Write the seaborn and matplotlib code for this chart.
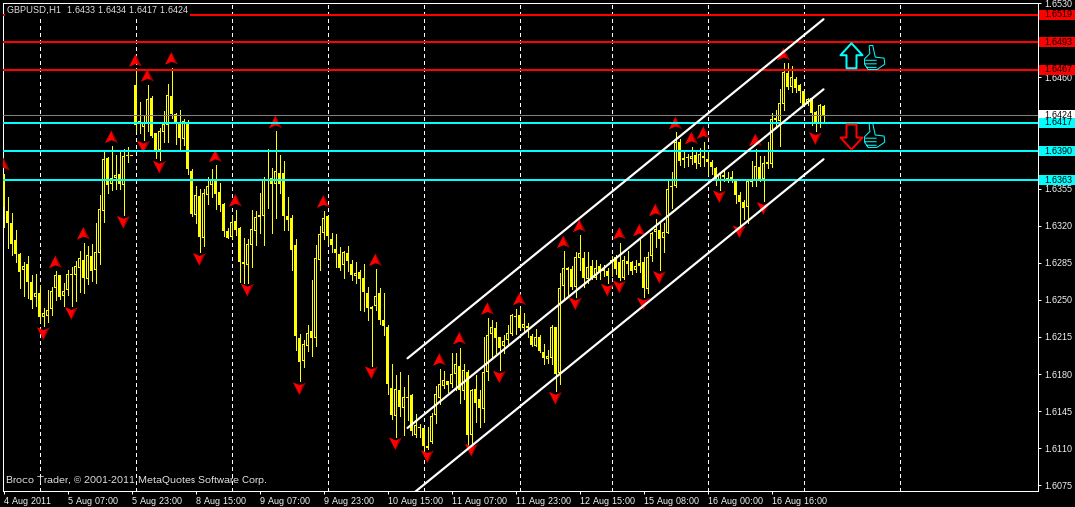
"""GBPUSD H1 chart with fractals, a rising channel and support/resistance levels."""

import numpy as np
import matplotlib
matplotlib.use("Agg")
import matplotlib.pyplot as plt
from matplotlib.patches import Rectangle
from matplotlib.path import Path
from matplotlib.transforms import blended_transform_factory
import seaborn as sns

# candles, in pips above 1.6000
BASE = 1.6
highs = [
    369, 347, 332, 316, 294, 286, 291, 273, 274, 264,
    242, 259, 262, 277, 273, 266, 278, 281, 287, 296,
    304, 301, 303, 322, 349, 391, 385, 395, 387, 391,
    392, 394, 386, 467, 437, 424, 453, 442, 407, 412,
    428, 454, 469, 426, 429, 421, 420, 373, 357, 355,
    355, 366, 373, 377, 360, 341, 318, 329, 335, 319,
    308, 307, 335, 334, 351, 366, 392, 374, 409, 387,
    381, 347, 330, 307, 218, 212, 226, 269, 302, 320,
    334, 329, 313, 312, 300, 296, 301, 288, 286, 278,
    284, 262, 244, 279, 261, 256, 226, 189, 179, 182,
    168, 179, 161, 142, 133, 129, 130, 143, 169, 185,
    183, 173, 200, 200, 205, 189, 184, 166, 179, 165,
    215, 233, 231, 229, 215, 217, 226, 237, 241, 242,
    238, 228, 218, 222, 217, 208, 203, 226, 224, 275,
    296, 281, 282, 295, 311, 295, 295, 288, 288, 284,
    283, 280, 291, 292, 304, 291, 296, 287, 288, 307,
    290, 295, 314, 326, 322, 322, 362, 371, 408, 402,
    389, 388, 394, 391, 393, 399, 390, 382, 375, 371,
    372, 371, 372, 362, 352, 344, 363, 381, 392, 386,
    386, 399, 426, 429, 449, 473, 473, 471, 460, 454,
    447, 440, 440, 428, 435, 434,
]
lows = [
    319, 299, 292, 286, 261, 254, 252, 242, 244, 229,
    225, 229, 236, 250, 251, 244, 255, 244, 249, 257,
    256, 265, 268, 266, 284, 323, 351, 354, 355, 355,
    330, 380, 386, 409, 407, 401, 409, 404, 384, 382,
    399, 399, 422, 397, 391, 396, 369, 329, 322, 295,
    301, 340, 347, 336, 334, 310, 308, 308, 311, 267,
    266, 266, 281, 302, 313, 302, 337, 313, 327, 351,
    316, 316, 278, 203, 173, 187, 202, 197, 206, 278,
    307, 303, 295, 281, 278, 271, 277, 269, 266, 240,
    239, 231, 188, 240, 227, 217, 161, 138, 121, 140,
    122, 137, 122, 121, 121, 105, 109, 115, 134, 152,
    167, 163, 168, 165, 153, 156, 113, 115, 135, 130,
    135, 174, 196, 200, 184, 200, 206, 217, 218, 222,
    220, 215, 206, 206, 201, 189, 190, 189, 164, 171,
    251, 255, 260, 253, 278, 262, 266, 270, 270, 270,
    272, 266, 272, 274, 269, 270, 274, 274, 276, 276,
    253, 256, 287, 300, 278, 295, 313, 337, 356, 377,
    375, 376, 378, 374, 376, 376, 368, 369, 358, 354,
    362, 361, 361, 341, 321, 326, 322, 357, 357, 362,
    343, 374, 375, 412, 395, 429, 449, 446, 446, 437,
    434, 434, 415, 409, 413, 417,
]
opens = [
    369, 334, 322, 306, 293, 278, 284, 267, 253, 256,
    234, 235, 241, 261, 273, 254, 259, 274, 273, 280,
    288, 270, 291, 278, 294, 334, 384, 359, 365, 369,
    358, 387, 386, 453, 417, 413, 417, 440, 407, 391,
    408, 415, 442, 425, 416, 402, 418, 372, 330, 348,
    308, 349, 358, 364, 352, 340, 315, 309, 324, 318,
    286, 283, 302, 315, 330, 329, 364, 365, 359, 370,
    370, 329, 327, 302, 214, 192, 206, 221, 214, 288,
    313, 329, 307, 298, 293, 283, 294, 284, 272, 276,
    271, 256, 241, 244, 256, 231, 224, 167, 140, 165,
    148, 158, 160, 122, 130, 129, 112, 116, 141, 157,
    169, 173, 171, 180, 188, 164, 182, 122, 166, 156,
    147, 182, 218, 223, 215, 206, 212, 218, 235, 236,
    223, 225, 216, 206, 215, 201, 194, 195, 224, 181,
    263, 280, 279, 262, 289, 289, 270, 282, 271, 282,
    279, 277, 288, 290, 286, 271, 287, 286, 278, 285,
    286, 260, 291, 314, 316, 308, 313, 357, 357, 399,
    384, 384, 383, 387, 378, 386, 383, 380, 374, 362,
    368, 365, 366, 362, 349, 342, 338, 361, 362, 375,
    364, 380, 378, 422, 419, 435, 464, 451, 458, 453,
    447, 435, 440, 427, 416, 433,
]
closes = [
    338, 322, 303, 293, 276, 282, 267, 250, 256, 234,
    238, 240, 258, 273, 253, 258, 274, 273, 282, 289,
    271, 292, 277, 295, 336, 383, 358, 365, 368, 359,
    386, 386, 386, 415, 419, 418, 439, 405, 390, 409,
    416, 443, 425, 416, 403, 419, 373, 331, 349, 309,
    351, 357, 363, 350, 339, 315, 308, 323, 316, 286,
    284, 303, 317, 328, 328, 363, 362, 359, 372, 359,
    329, 325, 297, 216, 191, 208, 219, 214, 289, 312,
    327, 310, 302, 294, 280, 295, 287, 273, 275, 270,
    257, 242, 243, 254, 231, 225, 171, 141, 166, 149,
    158, 157, 126, 132, 129, 112, 110, 140, 161, 171,
    174, 170, 180, 189, 165, 184, 122, 165, 153, 148,
    182, 217, 224, 214, 205, 211, 219, 236, 234, 223,
    227, 223, 207, 215, 202, 195, 197, 224, 180, 261,
    280, 278, 262, 290, 294, 271, 281, 270, 280, 276,
    277, 272, 286, 279, 271, 288, 284, 277, 282, 282,
    261, 290, 313, 317, 307, 314, 355, 356, 399, 381,
    382, 384, 386, 379, 388, 384, 380, 375, 363, 369,
    366, 363, 362, 349, 342, 337, 362, 362, 376, 364,
    379, 378, 421, 420, 436, 465, 451, 460, 450, 447,
    434, 439, 426, 416, 434, 424,
]

# fractal bars
up_fractals = [0, 13, 20, 27, 33, 36, 42, 53, 58, 68, 80, 93, 109, 114, 121, 129,
               140, 144, 154, 159, 163, 168, 172, 175, 188, 195]
down_fractals = [10, 17, 30, 35, 39, 49, 61, 74, 92, 98, 106, 117, 124, 138, 143,
                 151, 154, 160, 164, 179, 184, 190, 203]

# horizontal levels
red_levels = [1.6519, 1.6493, 1.6467]
cyan_levels = [1.6417, 1.6390, 1.6363]
last_price = 1.6424

# channel: bars and prices at both ends
channel_bars = [101, 205]
channel_upper = [1.61948, 1.65147]
channel_middle = [1.61291, 1.64486]
channel_lower = [1.60630, 1.63826]

# axis, the blank ones sit behind a price tag
price_ticks = [1.6530, 1.6495, 1.6460, 1.6425, 1.6390, 1.6355, 1.6320, 1.6285,
               1.6250, 1.6215, 1.6180, 1.6145, 1.6110, 1.6075]
price_labels = ["1.6530", "", "1.6460", "", "", "1.6355", "1.6320", "1.6285",
                "1.6250", "1.6215", "1.6180", "1.6145", "1.6110", "1.6075"]
time_bars = [0, 16, 32, 48, 64, 80, 96, 112, 128, 144, 160, 176, 192]
time_labels = ["4 Aug 2011", "5 Aug 07:00", "5 Aug 23:00", "8 Aug 15:00", "9 Aug 07:00",
               "9 Aug 23:00", "10 Aug 15:00", "11 Aug 07:00", "11 Aug 23:00", "12 Aug 15:00",
               "15 Aug 08:00", "16 Aug 00:00", "16 Aug 16:00"]
grid_bars = [9, 33, 57, 81, 105, 129, 152, 176, 200, 224]

# signal icons
icon_up = (212, 1.64803)
icon_down = (212, 1.64036)
thumb_up = (217.75, 1.6479)
thumb_down = (217.75, 1.64055)

YELLOW = "#ffff00"
RED = "#ff0000"
CYAN = "#00ffff"
PX = 0.72  # one pixel in points at dpi 100
PRICE_PX = 0.0001 / 1.06  # one pixel on the price axis
FONT_SIZE = 6.5

sns.set_theme(style="dark", rc={"axes.facecolor": "black", "figure.facecolor": "black"})
plt.rcParams["font.family"] = ["Liberation Sans", "DejaVu Sans"]
plt.rcParams["text.hinting"] = "native"
plt.rcParams["text.hinting_factor"] = 1


def arrow_path(direction):
    pts = [(0, 12.5), (-11, 0.5), (-5, 0.5), (-5, -12.5), (5, -12.5), (5, 0.5), (11, 0.5), (0, 12.5)]
    return Path([(x, y * direction) for x, y in pts], closed=True)


def thumb_path():
    outline = [(-13, 33), (-5, 33), (2, 0), (27, -3), (29, -20), (7, -35), (-18, -35),
               (-28, -20), (-28, -5), (-13, 10), (-15, 30), (-13, 33)]
    fingers = [(-26, -9), (6, -9), (-27, -19), (6, -19), (-22, -29), (6, -29)]
    verts = outline + fingers
    codes = [Path.MOVETO] + [Path.LINETO] * (len(outline) - 1) + [Path.MOVETO, Path.LINETO] * 3
    return Path(verts, codes)


def fractal_paths(direction):
    outer = [(0, 1), (-1, -1), (0, -0.55), (1, -1), (0, 1)]
    inner = [(-0.05, 0.8), (-1, -1), (0, -0.55), (0.5, -0.7), (-0.05, 0.8)]
    return (Path([(x, y * direction) for x, y in outer], closed=True),
            Path([(x, y * direction) for x, y in inner], closed=True))


def draw_candles(ax, x, o, h, l, c):
    ax.vlines(x, l, h, color=YELLOW, lw=PX, antialiased=False, zorder=2)
    top = np.maximum(o, c)
    bottom = np.minimum(o, c)
    # every body is 3 px wide, a rising one gets a black 1 px core
    height = np.maximum(top - bottom, PRICE_PX)
    ax.bar(x, height, bottom=bottom, width=0.75, color=YELLOW, linewidth=0,
           antialiased=False, zorder=3)
    hollow = (c > o) & (height > 2.5 * PRICE_PX)
    ax.bar(x[hollow], height[hollow] - 2 * PRICE_PX, bottom=bottom[hollow] + PRICE_PX, width=0.25,
           color="black", linewidth=0, antialiased=False, zorder=3.5)


def draw_fractals(ax, bars, prices, direction):
    outer, inner = fractal_paths(direction)
    for marker, colour in ((outer, "#a00000"), (inner, RED)):
        sns.scatterplot(x=bars, y=prices, marker=marker, s=85, color=colour, edgecolor="none",
                        linewidth=0, legend=False, ax=ax, zorder=4)


def price_tag(ax, price, colour):
    tr = blended_transform_factory(ax.transAxes, ax.transData)
    ax.add_patch(Rectangle((1.0014, price - 0.00047), 0.0348, 0.00094, transform=tr,
                           facecolor=colour, edgecolor="none", clip_on=False, zorder=10))
    ax.text(1.0063, price, f"{price:.4f}", transform=tr, color="black", fontsize=FONT_SIZE,
            va="center", ha="left", clip_on=False, zorder=11)


def main():
    x = np.arange(len(closes))
    o = BASE + np.array(opens) / 1e4
    h = BASE + np.array(highs) / 1e4
    l = BASE + np.array(lows) / 1e4
    c = BASE + np.array(closes) / 1e4

    fig = plt.figure(figsize=(10.75, 5.07), dpi=100)
    fig.patch.set_facecolor("black")
    ax = fig.add_axes([2.5 / 1075, 1 - 490.5 / 507, 1035 / 1075, 488 / 507])
    ax.set_facecolor("black")
    ax.set_xlim(-0.25, 258.5)
    ax.set_ylim(1.60701, 1.65305)

    ax.vlines(grid_bars, 1.60701, 1.65305, color="white", lw=PX, linestyles=(0, (3, 3)),
              antialiased=False, zorder=1)

    draw_candles(ax, x, o, h, l, c)

    draw_fractals(ax, up_fractals, h[up_fractals] + 0.0009, 1)
    draw_fractals(ax, down_fractals, l[down_fractals] - 0.0007, -1)

    ax.axhline(last_price, color="#808080", lw=PX, zorder=5)
    for level in red_levels:
        ax.axhline(level, color=RED, lw=2 * PX, zorder=5)
    for level in cyan_levels:
        ax.axhline(level, color=CYAN, lw=2 * PX, zorder=5)

    for prices in (channel_upper, channel_middle, channel_lower):
        sns.lineplot(x=channel_bars, y=prices, color="white", lw=2.2 * PX, legend=False,
                     errorbar=None, ax=ax, zorder=6)

    ax.scatter(*icon_up, marker=arrow_path(1), s=324, facecolors="none", edgecolors=CYAN,
               linewidths=2 * PX, zorder=7)
    ax.scatter(*icon_down, marker=arrow_path(-1), s=324, facecolors="none", edgecolors=RED,
               linewidths=2 * PX, zorder=7)
    for pos in (thumb_up, thumb_down):
        ax.scatter(*pos, marker=thumb_path(), s=320, facecolors="none", edgecolors=CYAN,
                   linewidths=PX, zorder=7)

    for side in ax.spines:
        ax.spines[side].set_visible(True)
        ax.spines[side].set_color("white")
        ax.spines[side].set_linewidth(PX)

    ax.yaxis.tick_right()
    ax.set_yticks(price_ticks)
    ax.set_yticklabels(price_labels)
    ax.set_xticks(time_bars)
    ax.set_xticklabels(time_labels, ha="left")
    ax.tick_params(axis="both", which="major", direction="out", length=2.2, width=PX,
                   color="white", labelcolor="white", labelsize=FONT_SIZE, pad=2.5,
                   left=False, bottom=True, right=True)
    ax.set_xlabel("")
    ax.set_ylabel("")
    ax.grid(False)

    price_tag(ax, last_price, "white")
    for level in red_levels:
        price_tag(ax, level, RED)
    for level in cyan_levels:
        price_tag(ax, level, CYAN)

    ax.text(0.0043, 0.9836, "GBPUSD,H1  1.6433 1.6434 1.6417 1.6424", transform=ax.transAxes,
            color="#e8e8e8", fontsize=FONT_SIZE, va="center", ha="left", zorder=12,
            bbox=dict(facecolor="black", edgecolor="none", pad=1.2))
    ax.text(0.0034, 0.0195, "Broco Trader, © 2001-2011 MetaQuotes Software Corp.",
            transform=ax.transAxes, color="#e8e8e8", fontsize=7, va="center", ha="left", zorder=12)

    fig.savefig("out.png", dpi=100, facecolor="black")
    plt.close(fig)


if __name__ == "__main__":
    main()
